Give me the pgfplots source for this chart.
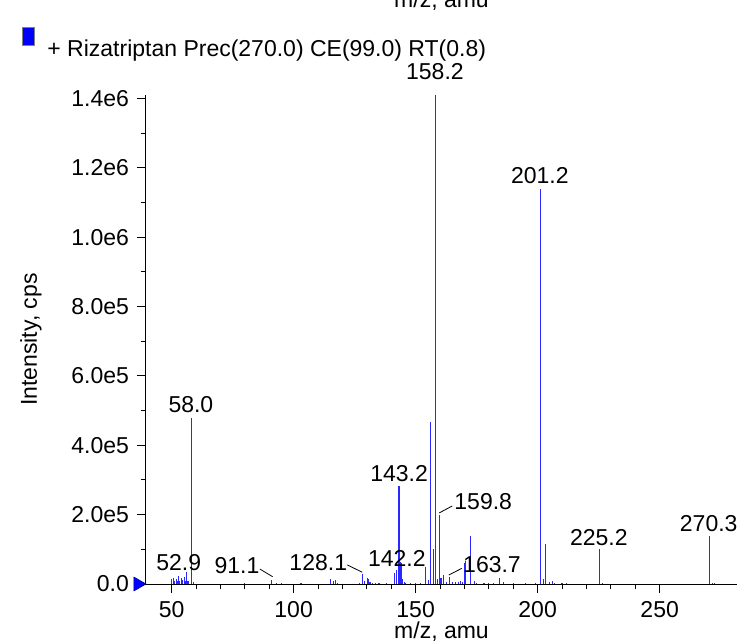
\documentclass[border=0pt]{standalone}
\usepackage{pgfplots}
\pgfplotsset{compat=1.18}
\usepackage{fontspec}
\setmainfont{Liberation Sans}
\definecolor{peak}{RGB}{40,40,255}
\begin{document}
\fontsize{11.5}{14}\selectfont
\begin{tikzpicture}
\begin{axis}[
  scale only axis,
  width=295.5pt, height=244.5pt,
  xmin=39.5, xmax=281.7,
  ymin=0, ymax=1.41e6,
  clip=false,
  axis x line*=bottom, axis y line*=left,
  axis line style={-, black, line width=0.5pt},
  tick align=outside,
  major tick length=4.5pt, minor tick length=2.5pt,
  tick style={black, line width=0.5pt},
  xtick={50,100,150,200,250},
  minor x tick num=4,
  ytick={0,2e5,4e5,6e5,8e5,1e6,1.2e6,1.4e6},
  yticklabels={0.0,2.0e5,4.0e5,6.0e5,8.0e5,1.0e6,1.2e6,1.4e6},
  minor y tick num=1,
  scaled y ticks=false,
  /pgf/number format/assume math mode=true,
  ticklabel style={font=\fontsize{11.5}{14}\selectfont},
]
\addplot[ycomb, color=peak, line width=0.55pt, mark=none] coordinates {
(50.1,15000) (50.7,16000) (51.3,9000) (51.9,14000) (52.4,8000) (52.9,22000)
(53.4,10000) (54.0,18000) (54.6,12000) (55.1,20000) (55.6,9000) (56.1,36000)
(56.7,8000) (58.0,480000) (59.1,5000) (79.8,4000) (91.1,12000) (93.0,3000)
(95.0,2000) (103.0,2000) (115.1,13000) (116.4,9000) (117.2,12000) (118.0,3000)
(127.0,4000) (128.1,28000) (129.2,8000) (130.2,18000) (130.7,15000) (131.3,7000)
(132.2,4000) (133.4,3000) (135.0,2000) (138.0,2000) (141.2,33000) (142.2,40000)
(143.2,282000) (143.8,64000) (144.3,62000) (144.8,14000) (145.3,6000) (146.0,3000)
(148.0,2000) (150.0,2000) (152.0,3000) (154.1,48000) (155.2,12000) (156.2,467000)
(157.2,101000) (158.2,1410000) (159.0,15000) (159.8,200000) (160.4,16000)
(161.6,26000) (162.7,6000) (163.7,19000) (165.0,5000) (166.5,7000) (167.5,5000)
(168.5,8000) (169.2,6000) (170.0,62000) (170.4,66000) (172.6,138000) (174.0,8000)
(175.0,3000) (178.0,2000) (180.0,2000) (182.0,3000) (184.3,16000) (186.0,5000)
(190.0,2000) (195.0,2000) (199.0,2000) (201.2,1138000) (202.3,14000)
(203.2,115000) (205.0,6000) (206.0,8000) (207.0,3000) (210.0,2000) (212.0,2000)
(225.2,100000) (226.6,4000) (270.3,138000) (271.5,3000) (272.6,3000)
};
\addplot[only marks, mark=triangle*, mark size=4pt, color=blue,
  mark options={rotate=-90, fill=blue, draw=blue!60!black, line width=0.3pt}] coordinates {(36.2,0)};
% peak labels
\node at (axis cs:157.9,1.478e6) {158.2};
\node at (axis cs:200.9,1.179e6) {201.2};
\node at (axis cs:57.9,0.516e6) {58.0};
\node at (axis cs:143.2,0.317e6) {143.2};
\node at (axis cs:142.3,0.075e6) {142.2};
\node at (axis cs:52.9,0.061e6) {52.9};
\node at (axis cs:76.8,0.052e6) {91.1};
\node at (axis cs:110.1,0.061e6) {128.1};
\node at (axis cs:177.7,0.237e6) {159.8};
\node at (axis cs:181.3,0.055e6) {163.7};
\node at (axis cs:225.1,0.133e6) {225.2};
\node at (axis cs:270.1,0.173e6) {270.3};
\draw[black, line width=0.4pt] (axis cs:86.2,0.043e6) -- (axis cs:91.4,0.021e6);
\draw[black, line width=0.4pt] (axis cs:122.0,0.055e6) -- (axis cs:128.1,0.034e6);
\draw[black, line width=0.4pt] (axis cs:165.0,0.225e6) -- (axis cs:159.7,0.205e6);
\draw[black, line width=0.4pt] (axis cs:168.9,0.045e6) -- (axis cs:163.6,0.026e6);
\end{axis}
% axis labels
\node[anchor=base] at (147.75pt,-27pt) {m/z, amu};
\node[anchor=base, rotate=90] at (-54.5pt,122.25pt) {Intensity, cps};
% clipped title at top
\node[anchor=base] at (147.75pt,288pt) {m/z, amu};
% legend
\filldraw[fill=blue, draw=gray, line width=0.4pt] (-62pt,269.5pt) rectangle (-56pt,278.5pt);
\node[anchor=base west, inner sep=0pt] at (-49.5pt,263.5pt) {+ Rizatriptan Prec(270.0) CE(99.0) RT(0.8)};
\pgfresetboundingbox
\path[use as bounding box] (-73pt,-29pt) rectangle (295.5pt,292pt);
\end{tikzpicture}
\end{document}
